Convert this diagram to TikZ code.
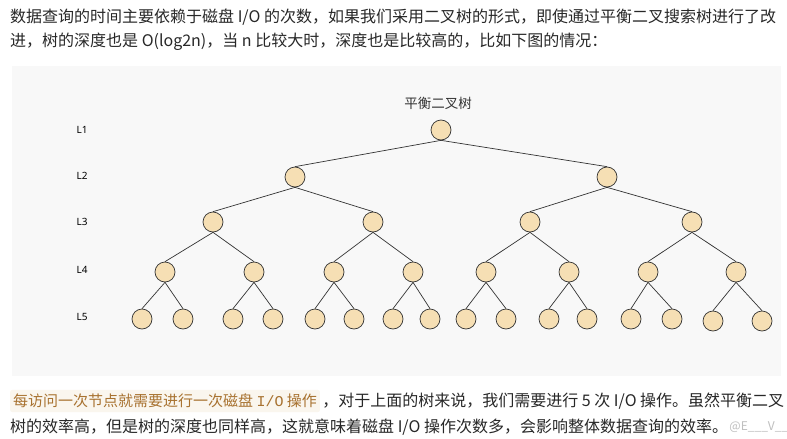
\documentclass[tikz,border=0pt]{standalone}
\usepackage{fontspec}
\setmainfont{Noto Sans CJK SC}
\newfontfamily\lvfont{Noto Sans}
\newfontfamily\codefont{Liberation Mono}
\usetikzlibrary{positioning}

\definecolor{panelgray}{RGB}{248,248,248}
\definecolor{nodefill}{RGB}{246,223,180}
\definecolor{codebg}{RGB}{250,246,238}
\definecolor{codetext}{RGB}{168,114,48}
\definecolor{bodytext}{RGB}{40,40,40}

\tikzset{
  nd/.style={circle,draw=black!80,fill=nodefill,line width=0.7pt,minimum size=20pt,inner sep=0pt},
  edge/.style={draw=black!80,line width=0.7pt},
  lvl/.style={font=\lvfont\bfseries\fontsize{10}{11}\selectfont,text=black},
  para/.style={anchor=west,inner sep=0pt,text=bodytext,font=\fontsize{16}{18}\selectfont}
}

\begin{document}
\begin{tikzpicture}[x=1pt,y=-1pt]
\useasboundingbox[fill=white] (0,0) rectangle (787,439);
\fill[panelgray] (12,66) rectangle (781,376);

% text above
\node[para] (t1) at (10,17) {数据查询的时间主要依赖于磁盘 I/O 的次数，如果我们采用二叉树的形式，即使通过平衡二叉搜索树进行了改};
\node[para] (t2) at (10,42) {进，树的深度也是 O(log2n)，当 n 比较大时，深度也是比较高的，比如下图的情况：};

% title and levels
\node[text=black!80,font=\fontsize{13.5}{15}\selectfont] (title) at (438,103) {平衡二叉树};
\node[lvl] (L1) at (82,130) {L1};
\node[lvl] (L2) at (82,176) {L2};
\node[lvl] (L3) at (82,222) {L3};
\node[lvl] (L4) at (82,270) {L4};
\node[lvl] (L5) at (82,317) {L5};

% tree
\node[nd] (n1) at (441,130) {};
\node[nd] (n21) at (295,177) {};
\node[nd] (n22) at (607,177) {};
\node[nd] (n31) at (213,222) {};
\node[nd] (n32) at (373,222) {};
\node[nd] (n33) at (530,222) {};
\node[nd] (n34) at (692,222) {};
\node[nd] (n41) at (165,272) {};
\node[nd] (n42) at (254,272) {};
\node[nd] (n43) at (334,272) {};
\node[nd] (n44) at (413,272) {};
\node[nd] (n45) at (486,272) {};
\node[nd] (n46) at (569,272) {};
\node[nd] (n47) at (648,272) {};
\node[nd] (n48) at (736,272) {};
\node[nd] (n51) at (142,319) {};
\node[nd] (n52) at (183,319) {};
\node[nd] (n53) at (233,319) {};
\node[nd] (n54) at (273,319) {};
\node[nd] (n55) at (315,319) {};
\node[nd] (n56) at (354,319) {};
\node[nd] (n57) at (393,319) {};
\node[nd] (n58) at (430,319) {};
\node[nd] (n59) at (466,319) {};
\node[nd] (n510) at (506,319) {};
\node[nd] (n511) at (549,319) {};
\node[nd] (n512) at (587,319) {};
\node[nd] (n513) at (631,319) {};
\node[nd] (n514) at (672,319) {};
\node[nd] (n515) at (713,321) {};
\node[nd] (n516) at (762,321) {};

\foreach \p/\c in {n1/n21,n1/n22,n21/n31,n21/n32,n22/n33,n22/n34,
  n31/n41,n31/n42,n32/n43,n32/n44,n33/n45,n33/n46,n34/n47,n34/n48,
  n41/n51,n41/n52,n42/n53,n42/n54,n43/n55,n43/n56,n44/n57,n44/n58,
  n45/n59,n45/n510,n46/n511,n46/n512,n47/n513,n47/n514,n48/n515,n48/n516}
  \draw[edge] (\p.south) -- (\c.north);

% text below
\node[anchor=west,fill=codebg,rounded corners=2pt,inner xsep=3pt,inner ysep=4pt,text=codetext,font=\fontsize{15}{17}\selectfont] (hl) at (10,401) {每访问一次节点就需要进行一次磁盘 {\codefont I/O} 操作};
\node[para,right=2pt of hl] (b1) {，对于上面的树来说，我们需要进行 5 次 I/O 操作。虽然平衡二叉};
\node[para] (b2) at (10,427) {树的效率高，但是树的深度也同样高，这就意味着磁盘 I/O 操作次数多，会影响整体数据查询的效率。};
\node[anchor=west,inner sep=0pt,text=black!25,font=\fontsize{12}{14}\selectfont,right=1pt of b2] (wm) {@E\_\_\_V\_\_};
\end{tikzpicture}
\end{document}
